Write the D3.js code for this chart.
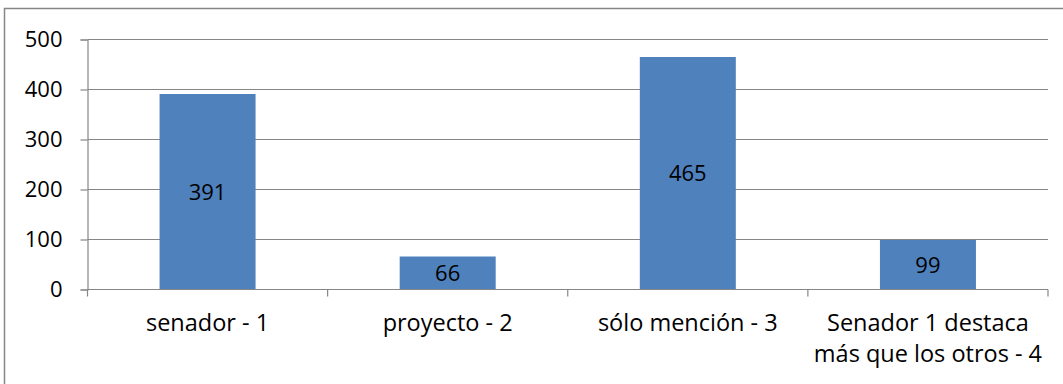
<!DOCTYPE html>
<html>
<head>
<meta charset="utf-8">
<script src="https://cdn.jsdelivr.net/npm/d3@7/dist/d3.min.js"></script>
<style>
  html, body { margin: 0; padding: 0; background: #fff; }
  svg { display: block; }
  text { font-family: "Open Sans", "Noto Sans", sans-serif; fill: #000; }
</style>
</head>
<body>
<svg id="chart" width="1063" height="384"></svg>
<script>
// Categories (line breaks mark where the axis label wraps)
const categories = [
  "senador - 1",
  "proyecto - 2",
  "sólo mención - 3",
  "Senador 1 destaca\nmás que los otros - 4"
];
const values = [391, 66, 465, 99];
const yTicks = [0, 100, 200, 300, 400, 500];

const plot = { left: 87.5, right: 1048, top: 39.5, bottom: 289.5 };
const gray = "#868686";
const barColor = "#4F81BD";
const fontSize = 22;
const catFontSize = 23.5;

const svg = d3.select("#chart");

// Chart area frame
svg.append("rect")
  .attr("x", 4.5).attr("y", 8.5)
  .attr("width", 1060).attr("height", 400)
  .attr("fill", "#fff")
  .attr("stroke", gray).attr("stroke-width", 1.5);

const xCat = d3.scaleBand()
  .domain(categories)
  .range([plot.left, plot.right]);

const y = d3.scaleLinear()
  .domain([0, 500])
  .range([plot.bottom, plot.top]);

// Horizontal gridlines
svg.append("g")
  .selectAll("line")
  .data(yTicks.filter(d => d > 0))
  .join("line")
  .attr("x1", plot.left).attr("x2", plot.right)
  .attr("y1", d => y(d)).attr("y2", d => y(d))
  .attr("stroke", gray).attr("stroke-width", 1.2);

// Y axis
const yAxis = svg.append("g")
  .attr("transform", `translate(${plot.left},0)`)
  .call(d3.axisLeft(y).tickValues(yTicks).tickSize(7).tickPadding(18).tickFormat(d3.format("d")));
yAxis.select(".domain").attr("stroke", gray).attr("stroke-width", 1.2);
yAxis.selectAll(".tick line").attr("stroke", gray).attr("stroke-width", 1.2);
yAxis.selectAll(".tick text")
  .attr("font-size", fontSize)
  .style("font-family", '"Open Sans", sans-serif')
  .attr("fill", "#000");

// Bars
svg.append("g")
  .selectAll("rect")
  .data(values)
  .join("rect")
  .attr("x", (d, i) => xCat(categories[i]) + xCat.bandwidth() / 2 - 48)
  .attr("width", 96)
  .attr("y", d => y(d))
  .attr("height", d => y(0) - y(d))
  .attr("fill", barColor);

// Value labels centred in each bar
svg.append("g")
  .selectAll("text")
  .data(values)
  .join("text")
  .attr("x", (d, i) => xCat(categories[i]) + xCat.bandwidth() / 2)
  .attr("y", d => (y(d) + y(0)) / 2)
  .attr("dy", "0.36em")
  .attr("text-anchor", "middle")
  .attr("font-size", fontSize)
  .text(d => d);

// X axis with category separators
const xAxis = svg.append("g")
  .attr("transform", `translate(0,${plot.bottom})`);
xAxis.append("line")
  .attr("x1", plot.left).attr("x2", plot.right)
  .attr("stroke", gray).attr("stroke-width", 1.2);
const sepPositions = categories.map(c => xCat(c)).concat([plot.right]);
xAxis.selectAll("line.sep")
  .data(sepPositions)
  .join("line")
  .attr("class", "sep")
  .attr("x1", d => d).attr("x2", d => d)
  .attr("y1", 0).attr("y2", 7)
  .attr("stroke", gray).attr("stroke-width", 1.2);

// Category labels
const labels = svg.append("g")
  .selectAll("text")
  .data(categories)
  .join("text")
  .attr("text-anchor", "middle")
  .attr("font-size", catFontSize)
  .attr("y", 331);
labels.each(function(c) {
  const t = d3.select(this);
  c.split("\n").forEach((line, k) => {
    t.append("tspan")
      .attr("x", xCat(c) + xCat.bandwidth() / 2)
      .attr("dy", k === 0 ? 0 : 31)
      .text(line);
  });
});
</script>
</body>
</html>
